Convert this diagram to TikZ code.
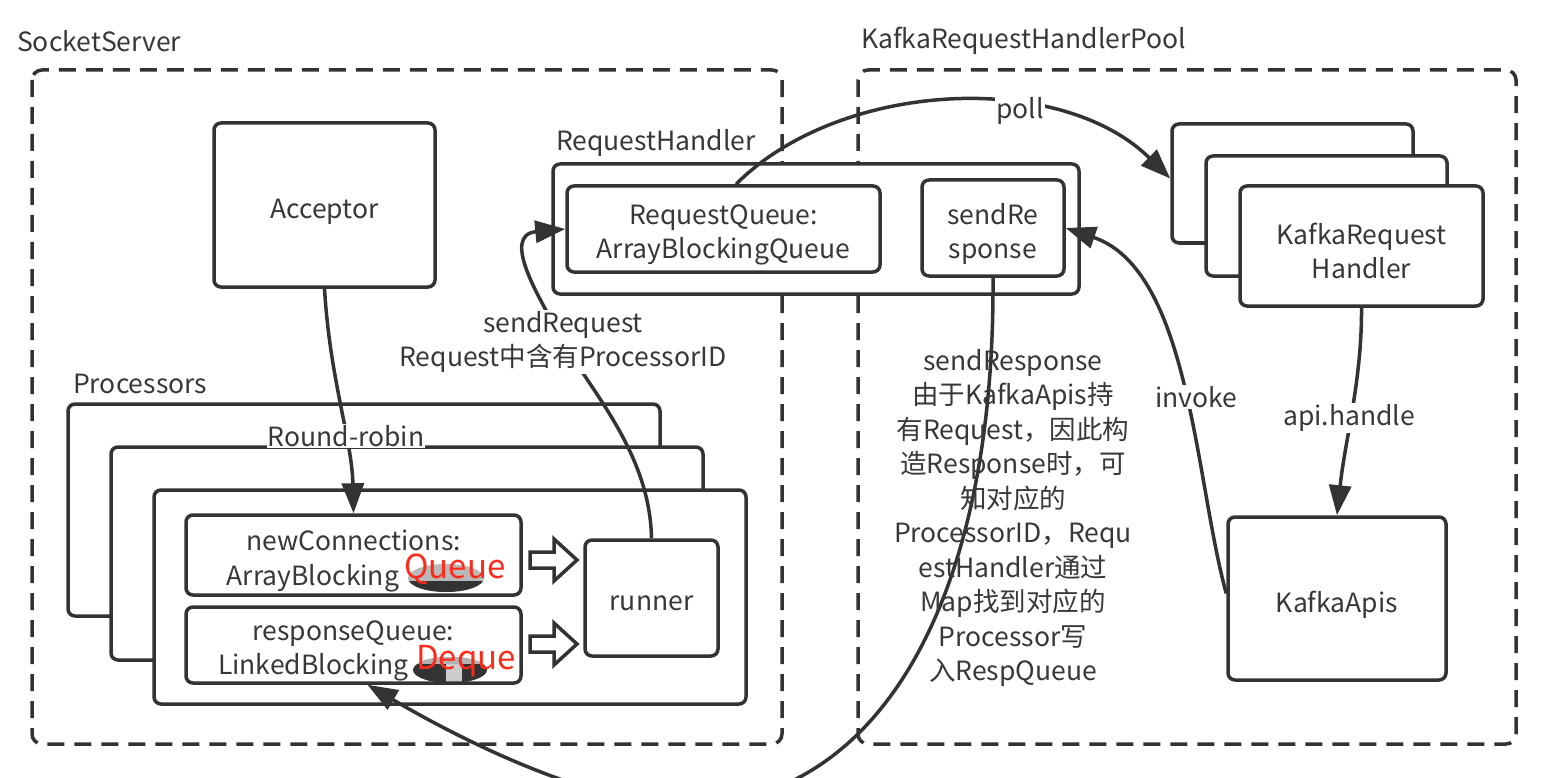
\documentclass[tikz,border=0pt]{standalone}
\usepackage{fontspec}
\setmainfont{Noto Sans CJK SC}
\usetikzlibrary{arrows.meta,calc}
\definecolor{dk}{HTML}{333333}
\definecolor{tx}{HTML}{383838}
\definecolor{rd}{HTML}{FF2A1A}
\newcommand\myfs{\fontsize{26.5}{34.5}\selectfont}
\begin{document}
\begin{tikzpicture}[x=1pt,y=-1pt,
 box/.style={draw=dk,line width=3.5pt,rounded corners=7pt,fill=white,inner sep=0pt},
 dbox/.style={draw=dk,line width=3.5pt,rounded corners=10pt,dash pattern=on 17pt off 10pt},
 lbl/.style={text=tx,font=\myfs,inner sep=1pt,align=center},
 wl/.style={lbl,fill=white},
 arr/.style={draw=dk,line width=3.5pt,-{Triangle[length=30pt,width=22pt]}},
 harr/.style={draw=dk,line width=3.5pt,fill=white,line join=miter},
 red/.style={text=rd,font=\fontsize{33}{34}\selectfont,inner sep=0pt}
 ]
\useasboundingbox (0,0) rectangle (1542,778);
\fill[white] (0,0) rectangle (1542,778);

% titles
\node[lbl,anchor=west] (tss) at (16,41) {SocketServer};
\node[lbl,anchor=west] (tkp) at (860,41) {KafkaRequestHandlerPool};
\node[lbl,anchor=west] (trh) at (555,143) {RequestHandler};
\node[lbl,anchor=west] (tpr) at (72,384) {Processors};

% dashed containers
\draw[dbox] (32,70) rectangle (782,744);
\draw[dbox] (858,70) rectangle (1516,744);

% acceptor
\node[box,minimum width=221pt,minimum height=164pt] (acc) at (324.5,205) {};
\node[lbl] (accT) at ([yshift=-7pt]acc.center) {Acceptor};

% request handler
\node[box,minimum width=526pt,minimum height=130pt] (rh) at (816,229) {};
\node[box,minimum width=313pt,minimum height=86pt] (rq) at (723.5,229) {};
\node[lbl] (rqT) at ([yshift=-6pt]rq.center) {RequestQueue:\\ArrayBlockingQueue};
\node[box,minimum width=142pt,minimum height=96pt] (sr) at (993,228) {};
\node[lbl] (srT) at ([yshift=-6pt]sr.center) {sendRe\\sponse};

% processors stack
\node[box,minimum width=592pt,minimum height=212pt] (p1) at (364,510) {};
\node[box,minimum width=592pt,minimum height=213pt] (p2) at (407,553.5) {};
\node[box,minimum width=592pt,minimum height=214pt] (p3) at (450,597) {};

% blobs
\fill[gray!55] (446,578) ellipse [x radius=38pt, y radius=14pt];
\begin{scope}
\clip (400,581) rectangle (495,600);
\fill[dk] (446,578) ellipse [x radius=38pt, y radius=14pt];
\end{scope}
\begin{scope}
\clip (450,670) ellipse [x radius=37pt, y radius=13pt];
\fill[dk] (405,655) rectangle (495,690);
\fill[gray!40] (446,655) rectangle (462,690);
\fill[gray!60] (405,655) rectangle (495,664);
\end{scope}

\node[box,minimum width=335pt,minimum height=80pt,fill=none] (ncq) at (353.5,555) {};
\node[lbl] (ncqT) at ([yshift=-6pt]ncq.center) {newConnections:\\ArrayBlocking\phantom{Queue}};
\node[box,minimum width=335pt,minimum height=76pt,fill=none] (rsq) at (353.5,645) {};
\node[lbl] (rsqT) at ([yshift=-6pt]rsq.center) {responseQueue:\\LinkedBlocking\phantom{Deque}};
\node[red,anchor=west] (rq1) at (404,569) {Queue};
\node[red,anchor=west] (rq2) at (416,661) {Deque};

\node[box,minimum width=133pt,minimum height=116pt] (runner) at (651.5,598) {};
\node[lbl] (runT) at ([yshift=-5pt]runner.center) {runner};

% hollow arrows
\draw[harr] (530,552) -- (554,552) -- (554,539) -- (577,560) -- (554,581) -- (554,568) -- (530,568) -- cycle;
\draw[harr] (530,636) -- (554,636) -- (554,623) -- (577,644) -- (554,665) -- (554,652) -- (530,652) -- cycle;

% kafka request handlers
\node[box,minimum width=241pt,minimum height=119pt] (k1) at (1292.5,183.5) {};
\node[box,minimum width=241pt,minimum height=120pt] (k2) at (1326.5,216) {};
\node[box,minimum width=243pt,minimum height=120pt] (k3) at (1361.5,246) {};
\node[lbl] (k3T) at ([yshift=-5pt]k3.center) {KafkaRequest\\Handler};

\node[box,minimum width=218pt,minimum height=163pt] (kapis) at (1337,598.5) {};
\node[lbl] (kapisT) at ([yshift=-6pt]kapis.center) {KafkaApis};

% connectors
\draw[arr] (acc.south) .. controls (330,380) and (352,440) .. (ncq.north);
\node[wl] (rr) at (346,436) {Round-robin};

\draw[arr] (runner.north) .. controls (650,450) and (585,385) .. (563,340) .. controls (540,300) and (500,235) .. (rq.west);
\node[wl] (sreq) at (563,342) {sendRequest\\Request中含有ProcessorID};

\draw[arr] ([xshift=12.5pt]rq.north) .. controls (840,80) and (1060,70) .. ([yshift=5pt]k1.west);
\node[wl] (poll) at (1020,111) {poll};

\begin{scope}
\clip (0,0) rectangle (1542,778);
\draw[arr] (sr.south) .. controls (995,600) and (880,800) .. (692,805) .. controls (600,808) and (470,745) .. ([xshift=14pt]rsq.south);
\end{scope}
\node[lbl] (resp) at (1013,518) {sendResponse\\由于KafkaApis持\\有Request，因此构\\造Response时，可\\知对应的\\ProcessorID，Requ\\estHandler通过\\Map找到对应的\\Processor写\\入RespQueue};

\draw[arr] ([yshift=5pt]kapis.west) .. controls (1195,480) and (1190,270) .. (sr.east);
\node[wl] (inv) at (1196,397) {invoke};

\draw[arr] (k3.south) .. controls (1362,380) and (1345,440) .. (kapis.north);
\node[wl] (api) at (1349,418) {api.handle};
\end{tikzpicture}
\end{document}
